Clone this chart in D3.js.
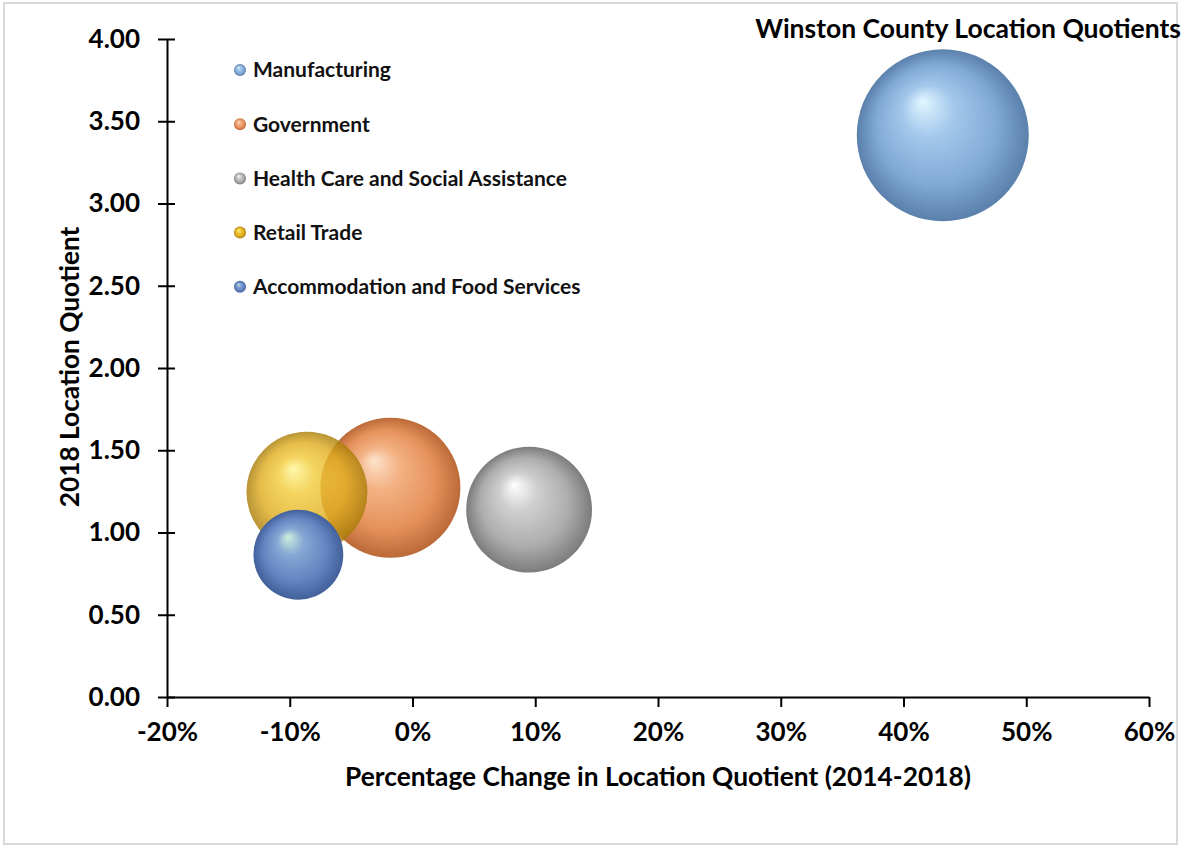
<!DOCTYPE html>
<html>
<head>
<meta charset="utf-8">
<script src="https://cdn.jsdelivr.net/npm/d3@7"></script>
<style>
  body { margin: 0; background: #fff; }
  svg { display: block; }
  svg text { font-family: Lato, "Open Sans", sans-serif; }
</style>
</head>
<body>
<svg id="chart"></svg>
<script>
const width = 1181
const height = 846

// Chart data
const industries = ['Manufacturing', 'Government', 'Health Care and Social Assistance', 'Retail Trade', 'Accommodation and Food Services'];
const pctChange = [0.432, -0.018, 0.095, -0.086, -0.093];   // x: change in LQ 2014-2018
const lq2018 = [3.415, 1.272, 1.139, 1.245, 0.865];          // y: 2018 location quotient
const bubbleSize = [1850, 1225, 990, 915, 505];               // relative bubble size
const xTicks = [-0.2, -0.1, 0, 0.1, 0.2, 0.3, 0.4, 0.5, 0.6];
const yTicks = [0, 0.5, 1, 1.5, 2, 2.5, 3, 3.5, 4];

// Colours: [highlight, light, base, shade]
const palette = [
    ['#e2f6ff', '#a4c8ec', '#80a9d6', '#5a80ab'],
    ['#fde3cb', '#f3b284', '#e6925c', '#bb6a38'],
    ['#ffffff', '#cfcfcf', '#adadad', '#7c7c7c'],
    ['#fff59a', '#f2cc3c', '#e0ad22', '#a97d0a'],
    ['#cdeedc', '#86a6d4', '#6384c0', '#42609a']
];
const fillOpacity = [1, 1, 1, 0.82, 1];

const margin = { top: 39, right: 32, bottom: 149, left: 167 };
const plotWidth = width - margin.left - margin.right;
const plotHeight = height - margin.top - margin.bottom;

var svg = d3.select('#chart')
    .attr('width', width)
    .attr('height', height);

// light frame round the whole picture
svg.append('rect')
    .attr('x', 4).attr('y', 3)
    .attr('width', width - 8).attr('height', height - 5)
    .attr('fill', 'none')
    .attr('stroke', '#d9d9d9')
    .attr('stroke-width', 2);

// sphere-looking gradients
var defs = svg.append('defs');
palette.forEach(function (c, i) {
    var g = defs.append('radialGradient')
        .attr('id', 'ball' + i)
        .attr('cx', '50%').attr('cy', '50%').attr('r', '50%')
        .attr('fx', '38%').attr('fy', '30%');
    g.append('stop').attr('offset', '0%').attr('stop-color', c[0]);
    g.append('stop').attr('offset', '30%').attr('stop-color', c[1]);
    g.append('stop').attr('offset', '70%').attr('stop-color', c[2]);
    g.append('stop').attr('offset', '100%').attr('stop-color', c[3]);
});

var plot = svg.append('g')
    .attr('transform', `translate(${margin.left},${margin.top})`);

var xScale = d3.scaleLinear()
    .domain([-0.2, 0.6])
    .range([0, plotWidth]);

var yScale = d3.scaleLinear()
    .domain([0, 4])
    .range([plotHeight, 0]);

var rScale = d3.scaleSqrt()
    .domain([0, d3.max(bubbleSize)])
    .range([0, 86]);

// Bubbles
var bubbles = industries.map(function (name, i) {
    return { name, x: pctChange[i], y: lq2018[i], size: bubbleSize[i], i };
});

plot.selectAll('circle.bubble')
    .data(bubbles)
    .enter()
    .append('circle')
    .attr('class', 'bubble')
    .attr('cx', function (d) { return xScale(d.x); })
    .attr('cy', function (d) { return yScale(d.y); })
    .attr('r', function (d) { return rScale(d.size); })
    .attr('fill', function (d) { return 'url(#ball' + d.i + ')'; })
    .attr('opacity', function (d) { return fillOpacity[d.i]; });

// Axes
var pct = d3.format('.0%');
var xAxis = plot.append('g')
    .attr('transform', `translate(0,${plotHeight})`)
    .call(d3.axisBottom(xScale)
        .tickValues(xTicks)
        .tickFormat(function (d) { return pct(d).replace('\u2212', '-'); })
        .tickSize(10)
        .tickSizeOuter(0)
        .tickPadding(16));

var yAxis = plot.append('g')
    .call(d3.axisLeft(yScale)
        .tickValues(yTicks)
        .tickFormat(d3.format('.2f'))
        .tickSize(0)
        .tickPadding(27));

yAxis.selectAll('.tick line')
    .attr('x1', -9)
    .attr('x2', 8);

[xAxis, yAxis].forEach(function (ax) {
    ax.attr('font-family', null).attr('font-size', null);
    ax.select('.domain').attr('stroke', '#000').attr('stroke-width', 2);
    ax.selectAll('.tick line').attr('stroke', '#000').attr('stroke-width', 2);
    ax.selectAll('.tick text')
        .attr('fill', '#000')
        .style('font-size', '26px')
        .style('font-weight', 700);
});

// Legend
var legend = svg.append('g')
    .attr('transform', 'translate(240,70)');

var item = legend.selectAll('g')
    .data(bubbles)
    .enter()
    .append('g')
    .attr('transform', function (d, i) { return `translate(0,${i * 54.2})`; });

item.append('circle')
    .attr('r', 6)
    .attr('fill', function (d) { return 'url(#ball' + d.i + ')'; });

item.append('text')
    .attr('x', 13)
    .attr('dy', '0.35em')
    .style('font-size', '21px')
    .style('font-weight', 700)
    .attr('fill', '#111')
    .text(function (d) { return d.name; });

// Titles
svg.append('text')
    .attr('x', 1181)
    .attr('y', 38)
    .attr('text-anchor', 'end')
    .style('font-size', '26.5px')
    .style('font-weight', 700)
    .text('Winston County Location Quotients');

svg.append('text')
    .attr('x', 658)
    .attr('y', 786)
    .attr('text-anchor', 'middle')
    .style('font-size', '26.3px')
    .style('font-weight', 700)
    .text('Percentage Change in Location Quotient (2014-2018)');

svg.append('text')
    .attr('transform', 'translate(79,367) rotate(-90)')
    .attr('text-anchor', 'middle')
    .style('font-size', '26.3px')
    .style('font-weight', 700)
    .text('2018 Location Quotient');
</script>
</body>
</html>
